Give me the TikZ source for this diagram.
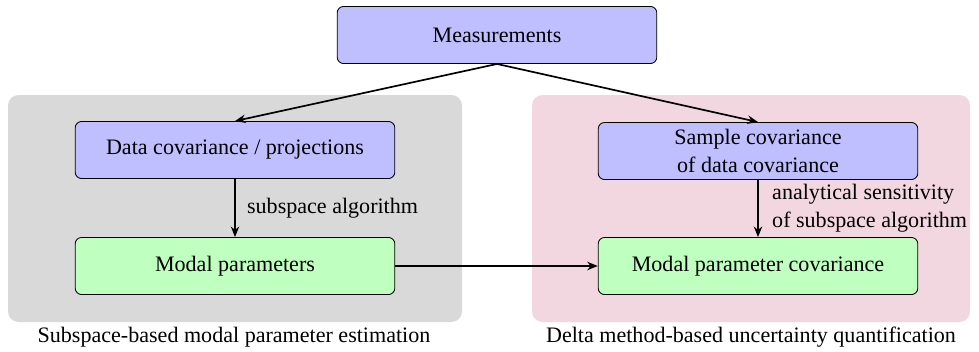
\documentclass[tikz,border=0pt]{standalone}
\usepackage{fontspec}
\setmainfont{Liberation Serif}
\usetikzlibrary{arrows.meta}

\definecolor{panelgray}{RGB}{217,217,217}
\definecolor{panelpink}{RGB}{243,215,224}

\tikzset{
  blk/.style={draw, rounded corners=3pt, minimum width=5.32cm, minimum height=0.95cm, align=center, inner sep=2pt},
  inblk/.style={blk, fill=blue!25},
  outblk/.style={blk, fill=green!25},
  link/.style={thick, -{Stealth[length=5pt, width=4pt]}}
}

\begin{document}
\begin{tikzpicture}[x=0.01664cm, y=-0.01664cm, font=\fontsize{10.45}{13.2}\selectfont]
  \useasboundingbox (0,0) rectangle (979,351);

  % panels
  \fill [panelgray, rounded corners=5pt] (8,95) rectangle (462,322);
  \fill [panelpink, rounded corners=5pt] (532,95) rectangle (970,322);

  \node [inblk] (meas) at (497,35) {Measurements};
  \node [inblk] (datacov) at (235,150) {Data covariance / projections};
  \node [inblk] (samplecov) at (758,151) {Sample covariance\\of data covariance};
  \node [outblk] (modal) at (235,266) {Modal parameters};
  \node [outblk] (modalcov) at (758,266) {Modal parameter covariance};

  \draw [link] (meas.south) -- (datacov.north);
  \draw [link] (meas.south) -- (samplecov.north);
  \draw [link] (datacov) -- node [right, xshift=2pt] (algo) {subspace algorithm} (modal);
  \draw [link] (samplecov) -- node [right, align=left, xshift=3pt] (sens) {analytical sensitivity\\of subspace algorithm} (modalcov);
  \draw [link] (modal) -- (modalcov);

  \node (leftcap) at (234,337) {Subspace-based modal parameter estimation};
  \node (rightcap) at (751,337) {Delta method-based uncertainty quantification};
\end{tikzpicture}
\end{document}
